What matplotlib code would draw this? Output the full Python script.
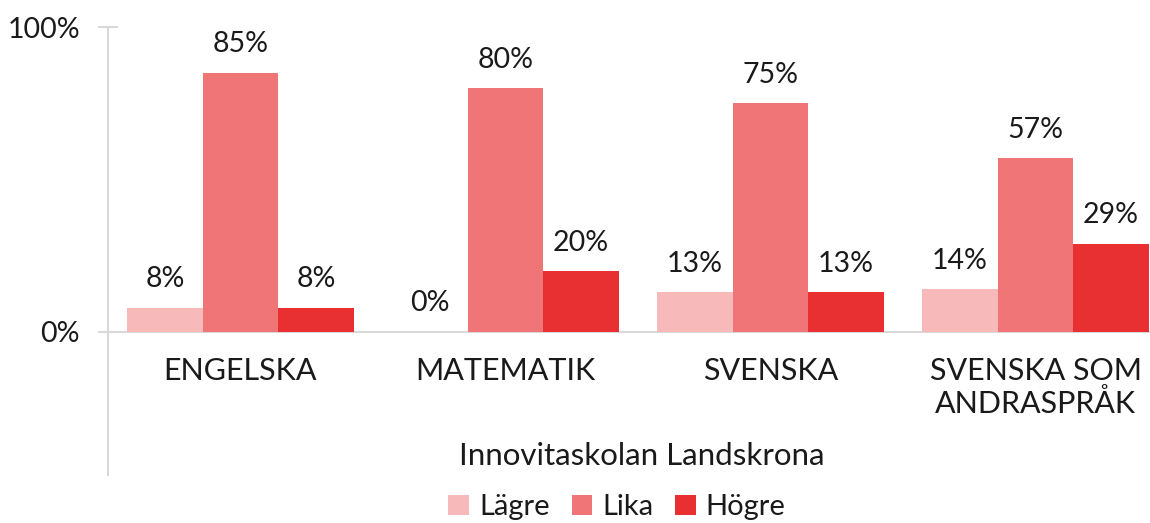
import matplotlib
matplotlib.use("Agg")
import matplotlib.pyplot as plt
from matplotlib.patches import Patch
import numpy as np

categories = ["ENGELSKA", "MATEMATIK", "SVENSKA", "SVENSKA SOM\nANDRASPRÅK"]
series_names = ["Lägre", "Lika", "Högre"]
lagre = [0.08, 0.00, 0.13, 0.14]
lika = [0.85, 0.80, 0.75, 0.57]
hogre = [0.08, 0.20, 0.13, 0.29]
ytick_vals = [0.0, 1.0]
ytick_labels = ["0%", "100%"]
xlabel = "Innovitaskolan Landskrona"

colors = ["#F8B9BA", "#F07576", "#E83033"]
grid_c = "#D9D9D9"
txt_c = "#1a1a1a"
plt.rcParams['font.family'] = ['Lato', 'DejaVu Sans']

W, H = 1150, 523
fig = plt.figure(figsize=(W / 100, H / 100), dpi=100)
ax = fig.add_axes([108 / W, (H - 475) / H, (1168 - 108) / W, (475 - 27) / H])

x = np.arange(len(categories))
bw = 0.285
series = [lagre, lika, hogre]
for k, (vals, c, name) in enumerate(zip(series, colors, series_names)):
    pos = x + (k - 1) * bw
    ax.bar(pos, vals, width=bw, color=c, label=name, zorder=2)
    for px, v in zip(pos, vals):
        ax.annotate(f"{round(v * 100)}%", xy=(px, v), xytext=(0, 20.5),
                    textcoords="offset points", ha="center", va="center",
                    fontsize=20.5, color=txt_c)

ax.set_xlim(-0.5, 3.5)
ax.set_ylim(-0.469, 1.0)
for s in ["top", "right"]:
    ax.spines[s].set_visible(False)
ax.spines["bottom"].set_position(("data", 0))
ax.spines["bottom"].set_color(grid_c)
ax.spines["bottom"].set_linewidth(1.5)
ax.spines["bottom"].set_zorder(1)
ax.spines["left"].set_color(grid_c)
ax.spines["left"].set_linewidth(1.5)

ax.set_yticks(ytick_vals)
ax.set_yticklabels(ytick_labels)
ax.tick_params(axis="y", direction="inout", length=13.7, width=1.5, color=grid_c,
               pad=13.3, labelsize=20.5, labelcolor=txt_c)
ax.set_xticks(x)
ax.set_xticklabels(categories, linespacing=1.15)
ax.tick_params(axis="x", length=0, pad=18, labelsize=22, labelcolor=txt_c)

fig.text(642 / W, 1 - 456 / H, xlabel, ha="center", va="center", fontsize=22.5, color=txt_c)

handles = [Patch(facecolor=c, label=n) for c, n in zip(colors, series_names)]
fig.legend(handles=handles, loc="center", bbox_to_anchor=(617 / W, 1 - 507 / H),
           ncol=3, frameon=False, fontsize=21, handlelength=0.7, handleheight=0.7,
           handletextpad=0.35, columnspacing=0.75, labelcolor=txt_c)

fig.savefig("out.png", dpi=100)
